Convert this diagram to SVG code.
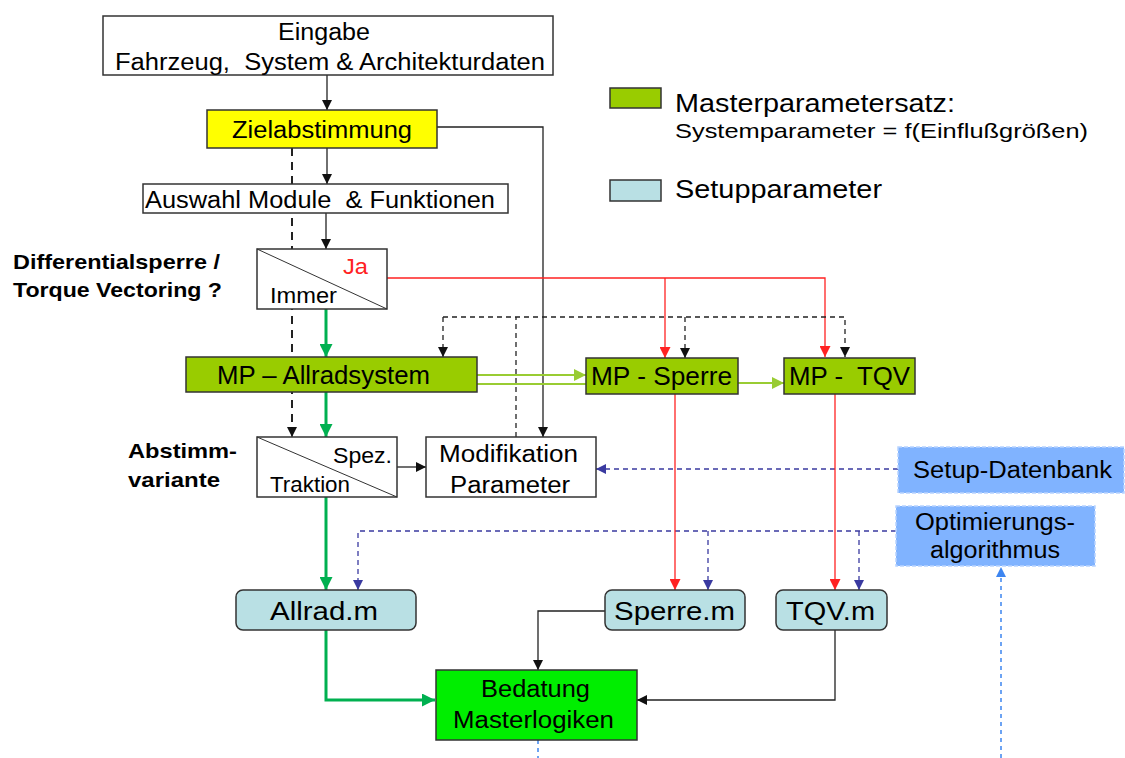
<svg xmlns="http://www.w3.org/2000/svg" width="1125" height="758" viewBox="0 0 1125 758">
  <style>
    text { font-family: "Liberation Sans", Arial, sans-serif; fill: #000; }
    .t22 { font-size: 22px; }
    .t23 { font-size: 23px; }
    .t25 { font-size: 25px; }
    .t26 { font-size: 26px; }
    .bold { font-weight: bold; font-size: 21px; }
    .box { stroke: #333; stroke-width: 1.5; }
    .white { fill: #fff; }
    .mp { fill: #99cc00; }
    .setup { fill: #b9e0e4; }
    .db { fill: #80b3ff; stroke: #b8d4ff; stroke-width: 1.5; stroke-dasharray: 4 2; }
    .blk { fill: none; stroke: #222; stroke-width: 1.3; }
    .dash { fill: none; stroke: #222; stroke-width: 1.3; stroke-dasharray: 5 4; }
    .dashthick { fill: none; stroke: #222; stroke-width: 2; stroke-dasharray: 8 6; }
    .red { fill: none; stroke: #f22; stroke-width: 1.3; }
    .grn { fill: none; stroke: #00b050; stroke-width: 3; }
    .lgrn { fill: none; stroke: #99cc33; stroke-width: 2; }
    .blu { fill: none; stroke: #3a3aa0; stroke-width: 1.3; stroke-dasharray: 5 4; }
    .lblu { fill: none; stroke: #3d85f0; stroke-width: 1.5; stroke-dasharray: 4 4; }
  </style>
  <defs>
    <marker id="ahK" viewBox="0 0 10 10" refX="10" refY="5" markerWidth="10" markerHeight="10" markerUnits="userSpaceOnUse" orient="auto">
      <path d="M0,0 L10,5 L0,10 z" fill="#111"/>
    </marker>
    <marker id="ahR" viewBox="0 0 10 10" refX="10" refY="5" markerWidth="11" markerHeight="11" markerUnits="userSpaceOnUse" orient="auto">
      <path d="M0,0 L10,5 L0,10 z" fill="#f22"/>
    </marker>
    <marker id="ahG" viewBox="0 0 10 10" refX="10" refY="5" markerWidth="13" markerHeight="13" markerUnits="userSpaceOnUse" orient="auto">
      <path d="M0,0 L10,5 L0,10 z" fill="#00b050"/>
    </marker>
    <marker id="ahLG" viewBox="0 0 10 10" refX="10" refY="5" markerWidth="12" markerHeight="12" markerUnits="userSpaceOnUse" orient="auto">
      <path d="M0,0 L10,5 L0,10 z" fill="#99cc33"/>
    </marker>
    <marker id="ahB" viewBox="0 0 10 10" refX="10" refY="5" markerWidth="10" markerHeight="10" markerUnits="userSpaceOnUse" orient="auto">
      <path d="M0,0 L10,5 L0,10 z" fill="#3a3aa0"/>
    </marker>
    <marker id="ahLB" viewBox="0 0 10 10" refX="10" refY="5" markerWidth="10" markerHeight="10" markerUnits="userSpaceOnUse" orient="auto">
      <path d="M0,0 L10,5 L0,10 z" fill="#3d85f0"/>
    </marker>
  </defs>

  <!-- connectors -->
  <g id="connectors">
    <!-- dashed bypass from Zielabstimmung to Abstimmvariante -->
    <line class="dashthick" x1="292" y1="148" x2="292" y2="429"/>
    <path d="M292,428 L292,437" class="blk" marker-end="url(#ahK)"/>
    <!-- main chain -->
    <line class="blk" x1="327" y1="75" x2="327" y2="110" marker-end="url(#ahK)"/>
    <line class="blk" x1="327" y1="148" x2="327" y2="184" marker-end="url(#ahK)"/>
    <line class="blk" x1="326" y1="213" x2="326" y2="249" marker-end="url(#ahK)"/>
    <polyline class="blk" points="437,127 543,127 543,437" marker-end="url(#ahK)"/>
    <!-- Ja branch -->
    <polyline class="red" points="387,278 825,278 825,357" marker-end="url(#ahR)"/>
    <line class="red" x1="665" y1="278" x2="665" y2="358" marker-end="url(#ahR)"/>
    <!-- Immer branch -->
    <line class="grn" x1="326" y1="309" x2="326" y2="357" marker-end="url(#ahG)"/>
    <line class="grn" x1="326" y1="392" x2="326" y2="437" marker-end="url(#ahG)"/>
    <line class="grn" x1="326" y1="497" x2="326" y2="590" marker-end="url(#ahG)"/>
    <polyline class="grn" points="326,630 326,700 435,700" marker-end="url(#ahG)"/>
    <!-- MP chain -->
    <line class="lgrn" x1="477" y1="375" x2="586" y2="375" marker-end="url(#ahLG)"/>
    <line class="lgrn" x1="477" y1="384" x2="586" y2="384"/>
    <line class="lgrn" x1="738" y1="383" x2="784" y2="383" marker-end="url(#ahLG)"/>
    <!-- Modifikation feedback to MP sets -->
    <polyline class="dash" points="516,437 516,317"/>
    <polyline class="dash" points="443,317 845,317 845,357" marker-end="url(#ahK)"/>
    <path class="dash" d="M443,317 L443,357" marker-end="url(#ahK)"/>
    <line class="dash" x1="685" y1="317" x2="685" y2="358" marker-end="url(#ahK)"/>
    <!-- Spez. -> Modifikation -->
    <line class="blk" x1="397" y1="467" x2="426" y2="467" marker-end="url(#ahK)"/>
    <!-- Setup-Datenbank -> Modifikation -->
    <line class="blu" x1="898" y1="469" x2="596" y2="469" marker-end="url(#ahB)"/>
    <!-- Optimierungsalgorithmus -> .m files -->
    <polyline class="blu" points="896,531 358,531 358,590" marker-end="url(#ahB)"/>
    <line class="blu" x1="708" y1="531" x2="708" y2="590" marker-end="url(#ahB)"/>
    <line class="blu" x1="859" y1="531" x2="859" y2="590" marker-end="url(#ahB)"/>
    <!-- MP -> .m files -->
    <line class="red" x1="675" y1="394" x2="675" y2="590" marker-end="url(#ahR)"/>
    <line class="red" x1="835" y1="394" x2="835" y2="590" marker-end="url(#ahR)"/>
    <!-- .m files -> Bedatung -->
    <polyline class="blk" points="605,611 538,611 538,670" marker-end="url(#ahK)"/>
    <polyline class="blk" points="835,630 835,700 637,700" marker-end="url(#ahK)"/>
    <!-- Bedatung -> Optimierung loop -->
    <line class="lblu" x1="538" y1="740" x2="538" y2="758"/>
    <line class="lblu" x1="1001" y1="758" x2="1001" y2="567" marker-end="url(#ahLB)"/>
  </g>

  <!-- nodes -->
  <g id="eingabe">
    <rect class="box white" x="103" y="16" width="450" height="59"/>
    <text class="t23" x="278" y="40" textLength="92" lengthAdjust="spacingAndGlyphs">Eingabe</text>
    <text class="t23" x="115" y="70" textLength="430" lengthAdjust="spacingAndGlyphs" xml:space="preserve">Fahrzeug,  System &amp; Architekturdaten</text>
  </g>
  <g id="zielabstimmung">
    <rect class="box" fill="#ffff00" x="207" y="110" width="230" height="38"/>
    <text class="t23" x="232" y="138" textLength="180" lengthAdjust="spacingAndGlyphs">Zielabstimmung</text>
  </g>
  <g id="auswahl">
    <rect class="box white" x="143" y="184" width="365" height="29"/>
    <text class="t23" x="145" y="208" textLength="350" lengthAdjust="spacingAndGlyphs" xml:space="preserve">Auswahl Module  &amp; Funktionen</text>
  </g>
  <g id="frage-dsp">
    <text class="bold" x="13" y="269" textLength="207" lengthAdjust="spacingAndGlyphs">Differentialsperre /</text>
    <text class="bold" x="13" y="297" textLength="209" lengthAdjust="spacingAndGlyphs">Torque Vectoring ?</text>
  </g>
  <g id="entscheidung-dsp">
    <rect class="box white" x="257" y="249" width="130" height="60"/>
    <line x1="257" y1="249" x2="387" y2="309" stroke="#333" stroke-width="1"/>
    <text class="t22" x="343" y="274" textLength="25" lengthAdjust="spacingAndGlyphs" style="fill:#f22">Ja</text>
    <text class="t22" x="270" y="303" textLength="67" lengthAdjust="spacingAndGlyphs">Immer</text>
  </g>
  <g id="mp-allrad">
    <rect class="box mp" x="186" y="357" width="291" height="35"/>
    <text class="t25" x="217" y="384" textLength="213" lengthAdjust="spacingAndGlyphs">MP – Allradsystem</text>
  </g>
  <g id="mp-sperre">
    <rect class="box mp" x="586" y="358" width="152" height="36"/>
    <text class="t25" x="591" y="385" textLength="141" lengthAdjust="spacingAndGlyphs">MP - Sperre</text>
  </g>
  <g id="mp-tqv">
    <rect class="box mp" x="784" y="358" width="131" height="36"/>
    <text class="t25" x="789" y="385" textLength="121" lengthAdjust="spacingAndGlyphs" xml:space="preserve">MP -  TQV</text>
  </g>
  <g id="frage-variante">
    <text class="bold" x="128" y="458" textLength="109" lengthAdjust="spacingAndGlyphs">Abstimm-</text>
    <text class="bold" x="128" y="487" textLength="92" lengthAdjust="spacingAndGlyphs">variante</text>
  </g>
  <g id="entscheidung-variante">
    <rect class="box white" x="257" y="437" width="140" height="60"/>
    <line x1="257" y1="437" x2="397" y2="497" stroke="#333" stroke-width="1"/>
    <text class="t22" x="333" y="463" textLength="59" lengthAdjust="spacingAndGlyphs">Spez.</text>
    <text class="t22" x="270" y="492" textLength="80" lengthAdjust="spacingAndGlyphs">Traktion</text>
  </g>
  <g id="modifikation">
    <rect class="box white" x="426" y="437" width="170" height="60"/>
    <text class="t23" x="439" y="462" textLength="139" lengthAdjust="spacingAndGlyphs">Modifikation</text>
    <text class="t23" x="450" y="493" textLength="120" lengthAdjust="spacingAndGlyphs">Parameter</text>
  </g>
  <g id="setup-datenbank">
    <rect class="db" x="898" y="447" width="226" height="46"/>
    <text class="t23" x="913" y="478" textLength="199" lengthAdjust="spacingAndGlyphs">Setup-Datenbank</text>
  </g>
  <g id="optimierung">
    <rect class="db" x="896" y="506" width="199" height="60"/>
    <text class="t23" x="915" y="530" textLength="160" lengthAdjust="spacingAndGlyphs">Optimierungs-</text>
    <text class="t23" x="930" y="558" textLength="130" lengthAdjust="spacingAndGlyphs">algorithmus</text>
  </g>
  <g id="allrad-m">
    <rect class="box setup" x="236" y="590" width="180" height="40" rx="7"/>
    <text class="t26" x="270" y="620" textLength="108" lengthAdjust="spacingAndGlyphs">Allrad.m</text>
  </g>
  <g id="sperre-m">
    <rect class="box setup" x="605" y="590" width="140" height="40" rx="7"/>
    <text class="t26" x="614" y="620" textLength="121" lengthAdjust="spacingAndGlyphs">Sperre.m</text>
  </g>
  <g id="tqv-m">
    <rect class="box setup" x="776" y="590" width="111" height="40" rx="7"/>
    <text class="t26" x="786" y="620" textLength="89" lengthAdjust="spacingAndGlyphs">TQV.m</text>
  </g>
  <g id="bedatung">
    <rect class="box" fill="#00ee00" x="436" y="670" width="201" height="70"/>
    <text class="t23" x="481" y="697" textLength="109" lengthAdjust="spacingAndGlyphs">Bedatung</text>
    <text class="t23" x="453" y="728" textLength="161" lengthAdjust="spacingAndGlyphs">Masterlogiken</text>
  </g>

  <!-- legend -->
  <g id="legende">
    <rect class="box mp" x="610" y="88" width="51" height="20"/>
    <text class="t25" x="675" y="112" textLength="280" lengthAdjust="spacingAndGlyphs">Masterparametersatz:</text>
    <text x="675" y="138" font-size="21" textLength="413" lengthAdjust="spacingAndGlyphs">Systemparameter = f(Einflußgrößen)</text>
    <rect class="box setup" x="610" y="180" width="51" height="21"/>
    <text class="t25" x="675" y="198" textLength="207" lengthAdjust="spacingAndGlyphs">Setupparameter</text>
  </g>
</svg>
